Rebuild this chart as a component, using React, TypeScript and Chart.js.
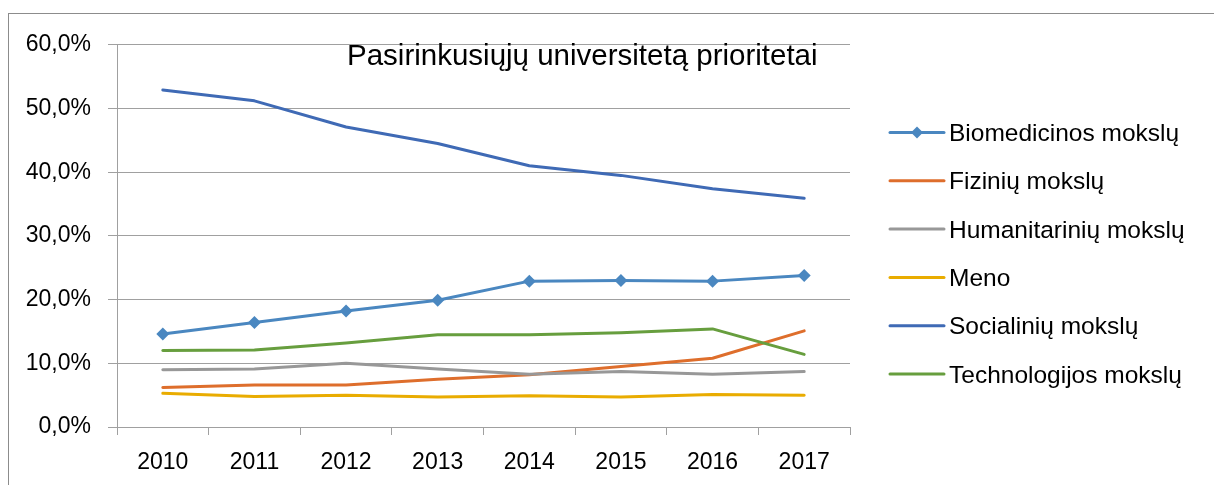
import React, { useEffect, useRef } from 'react';
import { Chart, registerables } from 'chart.js';

Chart.register(...registerables);

const years = ['2010', '2011', '2012', '2013', '2014', '2015', '2016', '2017'];

const biomedicinos = [14.6, 16.4, 18.2, 19.9, 22.9, 23.0, 22.9, 23.8];
const fiziniu = [6.2, 6.6, 6.6, 7.5, 8.2, 9.5, 10.8, 15.1];
const humanitariniu = [9.0, 9.1, 10.0, 9.1, 8.3, 8.7, 8.3, 8.7];
const meno = [5.3, 4.8, 5.0, 4.7, 4.9, 4.7, 5.1, 5.0];
const socialiniu = [52.9, 51.2, 47.1, 44.5, 41.0, 39.5, 37.4, 35.9];
const technologijos = [12.0, 12.1, 13.2, 14.5, 14.5, 14.8, 15.4, 11.4];

const seriesLabels = [
  'Biomedicinos mokslų',
  'Fizinių mokslų',
  'Humanitarinių mokslų',
  'Meno',
  'Socialinių mokslų',
  'Technologijos mokslų',
];

const chartTitle = 'Pasirinkusiųjų universitetą prioritetai';

const FONT = '"Liberation Sans", Arial, sans-serif';
const GRID = '#a0a0a0';

const titlePlugin = {
  id: 'innerTitle',
  afterDraw(chart: any) {
    const ctx = chart.ctx;
    ctx.save();
    ctx.font = `29.5px ${FONT}`;
    ctx.fillStyle = '#000';
    ctx.textAlign = 'left';
    ctx.textBaseline = 'alphabetic';
    ctx.fillText(chartTitle, 338, 51);
    ctx.restore();
  },
};

const legendPlugin = {
  id: 'sideLegend',
  afterDraw(chart: any) {
    const ctx = chart.ctx;
    const x0 = 881;
    const top = 118.5;
    const step = 48.3;
    ctx.save();
    chart.data.datasets.forEach((ds: any, i: number) => {
      const y = top + i * step;
      ctx.strokeStyle = ds.borderColor;
      ctx.lineWidth = 3;
      ctx.lineCap = 'round';
      ctx.beginPath();
      ctx.moveTo(x0, y);
      ctx.lineTo(x0 + 54, y);
      ctx.stroke();
      if (ds.pointRadius > 0) {
        const r = 6;
        const cx = x0 + 27;
        ctx.fillStyle = ds.borderColor;
        ctx.beginPath();
        ctx.moveTo(cx - r, y);
        ctx.lineTo(cx, y - r);
        ctx.lineTo(cx + r, y);
        ctx.lineTo(cx, y + r);
        ctx.closePath();
        ctx.fill();
      }
      ctx.fillStyle = '#000';
      ctx.font = `24.5px ${FONT}`;
      ctx.textAlign = 'left';
      ctx.textBaseline = 'alphabetic';
      ctx.fillText(ds.label, x0 + 59, y + 8.5);
    });
    ctx.restore();
  },
};

export default function App() {
  const ref = useRef<HTMLCanvasElement | null>(null);

  useEffect(() => {
    if (!ref.current) return;
    const colors = ['#4a87c0', '#de6e2c', '#989898', '#e9ac00', '#3f6ab5', '#679e3e'];
    const values = [biomedicinos, fiziniu, humanitariniu, meno, socialiniu, technologijos];
    const datasets = values.map((v, i) => ({
      label: seriesLabels[i],
      data: v,
      borderColor: colors[i],
      backgroundColor: colors[i],
      borderWidth: 3,
      borderCapStyle: 'round' as const,
      borderJoinStyle: 'round' as const,
      pointStyle: 'rectRot' as const,
      pointRadius: i === 0 ? 6.5 : 0,
      pointBorderWidth: 0,
      pointHoverRadius: 0,
      tension: 0,
      fill: false,
      order: values.length - i,
    }));

    const chart = new Chart(ref.current, {
      type: 'line',
      data: { labels: years, datasets },
      options: {
        responsive: false,
        animation: false,
        layout: { padding: { left: 0, top: 29, right: 364, bottom: 0 } },
        plugins: {
          legend: { display: false },
          title: { display: false },
          tooltip: { enabled: false },
        },
        scales: {
          x: {
            offset: true,
            grid: {
              display: true,
              offset: true,
              drawOnChartArea: false,
              drawTicks: true,
              tickLength: 8,
              color: GRID,
              lineWidth: 1,
            },
            border: { display: true, color: GRID, width: 1 },
            ticks: {
              color: '#000',
              font: { family: FONT, size: 23 },
              padding: 14,
              maxRotation: 0,
              autoSkip: false,
            },
            afterFit(scale: any) {
              scale.height = 58;
            },
          },
          y: {
            min: 0,
            max: 60,
            grid: {
              display: true,
              color: GRID,
              lineWidth: 1,
              drawTicks: true,
              tickLength: 9,
            },
            border: { display: true, color: GRID, width: 1 },
            ticks: {
              stepSize: 10,
              color: '#000',
              font: { family: FONT, size: 23 },
              padding: 17,
              callback: (v: any) => Number(v).toFixed(1).replace('.', ',') + '%',
            },
            afterFit(scale: any) {
              scale.width = 108;
            },
          },
        },
      },
      plugins: [titlePlugin, legendPlugin],
    });
    return () => chart.destroy();
  }, []);

  return (
    <div
      style={{
        position: 'absolute',
        left: 8,
        top: 13,
        width: 1205,
        height: 471,
        borderLeft: '1px solid #8c8c8c',
        borderTop: '1px solid #8c8c8c',
        background: '#fff',
      }}
    >
      <canvas ref={ref} width={1205} height={471} style={{ display: 'block', width: 1205, height: 471 }} />
    </div>
  );
}
